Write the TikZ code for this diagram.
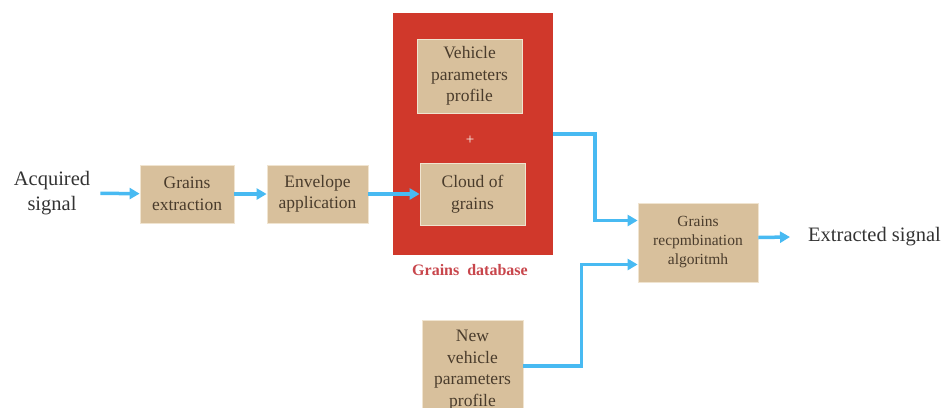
\documentclass[tikz,border=0pt]{standalone}
\usepackage{fontspec}
\setmainfont{LiberationSerif}[Extension=.ttf, UprightFont=*-Regular, BoldFont=*-Bold, ItalicFont=*-Italic]
\usepackage{tikz}
\usetikzlibrary{arrows.meta,positioning}
\definecolor{tan}{RGB}{216,192,156}
\definecolor{tanedge}{RGB}{240,228,208}
\definecolor{boxtext}{RGB}{74,60,44}
\definecolor{dbred}{RGB}{208,56,43}
\definecolor{dblabel}{RGB}{200,70,76}
\definecolor{flowblue}{RGB}{72,186,242}

\begin{document}
\begin{tikzpicture}[x=1pt,y=-1pt,
	box/.style={draw=tanedge, line width=0.8pt, fill=tan, text=boxtext, align=center, inner sep=0pt,
		font=\fontsize{17.5}{21.5}\selectfont},
	lbl/.style={align=center, text=black!80, font=\fontsize{20.5}{25}\selectfont},
	flow/.style={draw=flowblue, line width=3.5pt, -{Triangle[length=10pt,width=11pt]}}]

	\useasboundingbox (0,0) rectangle (941,407);

	\node (acq) [lbl, inner sep=10pt] at (52,193) {Acquired\\signal};
	\node (extr) [box, minimum width=94, minimum height=58] at (187,194) {Grains\\extraction};
	\node (env) [box, minimum width=101, minimum height=58] at (317.5,194) {Envelope\\application};

	% grains database
	\node (db) [fill=dbred, minimum width=160, minimum height=242, inner sep=0pt] at (473,134) {};
	\node (veh) [box, minimum width=105, minimum height=74] at (469.5,76) {Vehicle\\parameters\\profile};
	\node (plus) [text=white!85!tan, font=\fontsize{15}{16}\selectfont] at (470,140) {+};
	\node (cloud) [box, minimum width=105, minimum height=62] at (472.5,194) {Cloud of\\grains};
	\node (dbname) [text=dblabel, font=\fontsize{16}{18}\selectfont\bfseries] at (470,270) {Grains~~database};

	\node (newveh) [box, minimum width=101, minimum height=100] at (472.5,370) {New\\vehicle\\parameters\\profile};
	\node (recomb) [box, minimum width=120, minimum height=79, font=\fontsize{15.5}{19}\selectfont] at (698,242.5) {Grains\\recpmbination\\algoritmh};
	\node (ext) [lbl, anchor=west, inner sep=0pt] at (808,237) {Extracted signal};

	\draw [flow] (acq) -- (extr);
	\draw [flow] (extr) -- (env);
	\draw [flow] (env) -- (cloud);
	\draw [flow] (db.east) -- ++(42,0) |- ([yshift=22pt]recomb.west);
	\draw [flow] ([yshift=4pt]newveh.east) -- ++(58,0) |- ([yshift=-22pt]recomb.west);
	\draw [flow] ([yshift=5pt]recomb.east) -- ([xshift=-18pt]ext.west);

\end{tikzpicture}
\end{document}
